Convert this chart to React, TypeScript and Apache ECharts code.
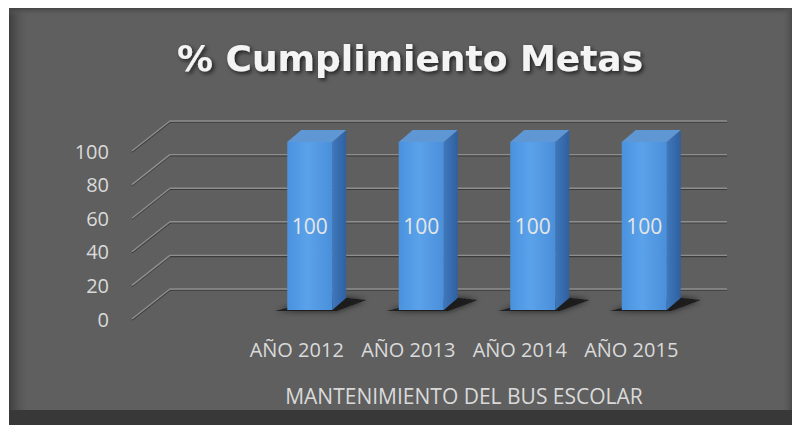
import React, { useEffect, useRef } from "react";
import * as echarts from "echarts";

const titleText = "% Cumplimiento Metas";
const axisTitle = "MANTENIMIENTO DEL BUS ESCOLAR";
const categories = ["AÑO 2012", "AÑO 2013", "AÑO 2014", "AÑO 2015"];
const values = [100, 100, 100, 100];
const yTicks = [0, 20, 40, 60, 80, 100];

const W = 783;
const H = 417;
// depth of the 3D walls
const DEPTH_X = 38;
const DEPTH_Y = -30;

export default function App() {
  const ref = useRef<HTMLDivElement>(null);
  useEffect(() => {
    if (!ref.current) return;
    const chart = echarts.init(ref.current, undefined, { renderer: "svg" });
    const labelColor = "#dadada";
    const font = "'Open Sans', 'Noto Sans', sans-serif";
    const lineLight = () => ({ stroke: "#8e8e8e", lineWidth: 1.4 });
    const lineDark = () => ({ stroke: "rgba(30,30,30,0.55)", lineWidth: 1.2 });
    const option: any = {
      animation: false,
      backgroundColor: "#5f5f5f",
      title: {
        text: titleText,
        left: 396,
        textAlign: "center",
        top: 27,
        textStyle: {
          color: "#f4f4f4",
          fontSize: 36,
          fontWeight: "bold",
          fontFamily: "'DejaVu Sans', sans-serif",
          textShadowColor: "rgba(0,0,0,0.7)",
          textShadowBlur: 4,
          textShadowOffsetX: 2,
          textShadowOffsetY: 2,
        },
      },
      graphic: [
        { type: "rect", z: -10, shape: { x: 0, y: 0, width: 22, height: H }, style: { fill: new echarts.graphic.LinearGradient(0, 0, 1, 0, [{ offset: 0, color: "#3e3e3e" }, { offset: 1, color: "rgba(95,95,95,0)" }]) } },
        { type: "rect", z: -10, shape: { x: 0, y: 0, width: W, height: 8 }, style: { fill: new echarts.graphic.LinearGradient(0, 0, 0, 1, [{ offset: 0, color: "#444" }, { offset: 1, color: "rgba(95,95,95,0)" }]) } },
        { type: "rect", z: -10, shape: { x: W - 10, y: 0, width: 10, height: H }, style: { fill: new echarts.graphic.LinearGradient(0, 0, 1, 0, [{ offset: 0, color: "rgba(95,95,95,0)" }, { offset: 1, color: "#4a4a4a" }]) } },
        { type: "rect", z: -9, shape: { x: 0, y: 402, width: W, height: 15 }, style: { fill: "#383838" } },
      ],
      grid: [
        { left: 123, top: 143, width: 557, height: 168 },
        { left: 232, top: 143, width: 446, height: 168 },
      ],
      xAxis: [
        { gridIndex: 0, type: "value", min: 0, max: 1, show: false },
        {
          gridIndex: 1,
          type: "category",
          data: categories,
          axisLine: { show: false },
          axisTick: { show: false },
          axisLabel: { color: labelColor, fontSize: 20, fontFamily: font, margin: 20, interval: 0 },
          name: axisTitle,
          nameLocation: "middle",
          nameGap: 66,
          nameTextStyle: { color: labelColor, fontSize: 21, fontFamily: font },
        },
      ],
      yAxis: [
        {
          gridIndex: 0,
          type: "value",
          min: 0,
          max: 100,
          interval: 20,
          axisLine: { show: false },
          axisTick: { show: false },
          splitLine: { show: false },
          axisLabel: { color: labelColor, fontSize: 20, fontFamily: font, margin: 23 },
        },
        { gridIndex: 1, type: "value", min: 0, max: 100, show: false, splitLine: { show: false } },
      ],
      series: [
        {
          type: "custom",
          xAxisIndex: 0,
          yAxisIndex: 0,
          data: yTicks.map((v) => [0, v]),
          silent: true,
          renderItem: (params: any, api: any) => {
            const p = api.coord([0, api.value(1)]);
            const cs = params.coordSys;
            const bx = p[0] + DEPTH_X;
            const by = p[1] + DEPTH_Y;
            const ex = cs.x + cs.width + DEPTH_X;
            return {
              type: "group",
              children: [
                { type: "line", shape: { x1: p[0], y1: p[1] + 1.2, x2: bx, y2: by + 1.2 }, style: lineDark() },
                { type: "line", shape: { x1: bx, y1: by + 1.2, x2: ex, y2: by + 1.2 }, style: lineDark() },
                { type: "line", shape: { x1: p[0], y1: p[1], x2: bx, y2: by }, style: lineLight() },
                { type: "line", shape: { x1: bx, y1: by, x2: ex, y2: by }, style: lineLight() },
              ],
            };
          },
        },
        {
          type: "custom",
          xAxisIndex: 1,
          yAxisIndex: 1,
          data: values.map((v, i) => [i, v]),
          renderItem: (params: any, api: any) => {
            const i = api.value(0);
            const v = api.value(1);
            const top = api.coord([i, v]);
            const base = api.coord([i, 0]);
            const cx = top[0] + 13;
            const bw = 45;
            const x0 = cx - bw / 2;
            const x1 = cx + bw / 2;
            const yT = top[1] - 9;
            const yB = base[1] - 9;
            const sdx = 14;
            const sdy = -12;
            return {
              type: "group",
              children: [
                {
                  type: "polygon",
                  shape: { points: [[x0 - 12, yB + 1], [x1 + 4, yB + 1], [x1 + sdx + 20, yB + sdy + 2], [x1 + sdx, yB + sdy], [x0 + 4, yB - 3]] },
                  style: { fill: "rgba(20,20,20,0.85)", shadowColor: "rgba(0,0,0,0.8)", shadowBlur: 6 },
                },
                {
                  type: "polygon",
                  shape: { points: [[x1, yT], [x1 + sdx, yT + sdy], [x1 + sdx, yB + sdy], [x1, yB]] },
                  style: { fill: new echarts.graphic.LinearGradient(0, 0, 1, 0, [{ offset: 0, color: "#3f78bd" }, { offset: 1, color: "#2f609f" }]) },
                },
                {
                  type: "polygon",
                  shape: { points: [[x0, yT], [x1, yT], [x1 + sdx, yT + sdy], [x0 + sdx, yT + sdy]] },
                  style: { fill: "#5f96d4" },
                },
                {
                  type: "rect",
                  shape: { x: x0, y: yT, width: bw, height: yB - yT },
                  style: {
                    fill: new echarts.graphic.LinearGradient(0, 0, 1, 0, [
                      { offset: 0, color: "#4a92de" },
                      { offset: 0.45, color: "#5aa2ea" },
                      { offset: 1, color: "#4a8fda" },
                    ]),
                  },
                },
                {
                  type: "text",
                  style: {
                    text: String(v),
                    x: cx,
                    y: (yT + yB) / 2,
                    align: "center",
                    verticalAlign: "middle",
                    fill: "#e6e6e6",
                    fontSize: 21,
                    fontFamily: font,
                  },
                },
              ],
            };
          },
        },
      ],
    };
    chart.setOption(option);
    return () => chart.dispose();
  }, []);
  return (
    <div
      ref={ref}
      style={{ position: "absolute", left: 9, top: 8, width: W, height: H }}
    />
  );
}
